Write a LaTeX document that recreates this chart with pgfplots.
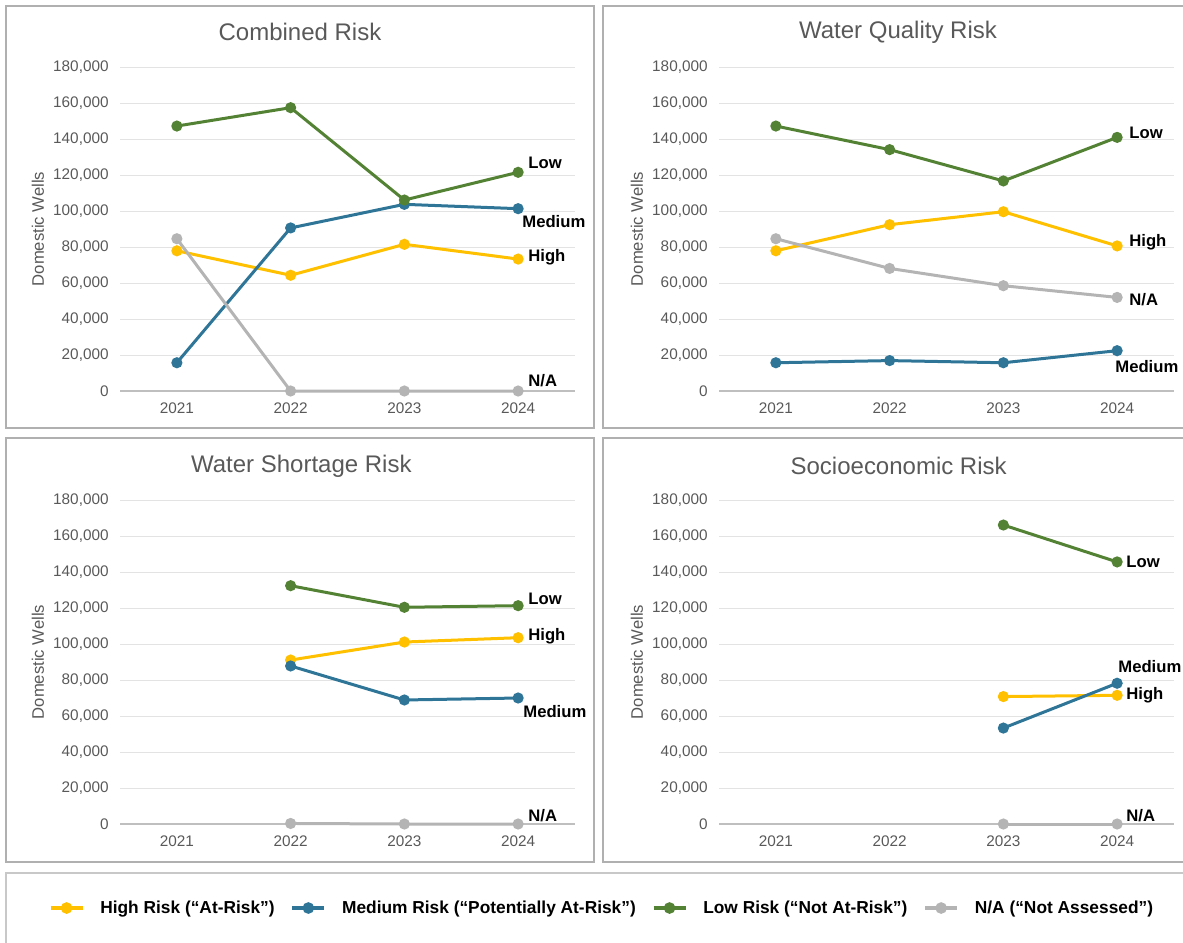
\documentclass[border=0pt]{standalone}
\usepackage{pgfplots}
\pgfplotsset{compat=1.18}
\usepackage{fontspec}
\setmainfont{Liberation Sans}

\definecolor{hiY}{HTML}{FFC000}
\definecolor{medB}{HTML}{2E7598}
\definecolor{lowG}{HTML}{548235}
\definecolor{naG}{HTML}{B4B4B4}
\definecolor{txtgray}{HTML}{595959}
\definecolor{gridgray}{HTML}{E3E3E3}
\definecolor{axisgray}{HTML}{BFBFBF}
\definecolor{boxgray}{HTML}{B0B0B0}

\pgfplotsset{
  panel/.style={
    scale only axis, width=341.25pt, height=243pt,
    xmin=0.5, xmax=4.5, ymin=0, ymax=180000,
    xtick={1,2,3,4}, xticklabels={2021,2022,2023,2024},
    ytick={0,20000,...,180000},
    scaled y ticks=false,
    /pgf/number format/fixed,
    /pgf/number format/precision=0,
    /pgf/number format/1000 sep={,},
    /pgf/number format/assume math mode=true,
    axis x line*=bottom, axis y line*=left,
    y axis line style={draw=none},
    x axis line style={draw=axisgray, line width=1.1pt},
    major tick length=0pt,
    ymajorgrids, grid style={draw=gridgray, line width=0.75pt},
    tick label style={font=\fontsize{11.5}{13}\selectfont, text=txtgray},
    xticklabel style={yshift=-5pt},
    yticklabel style={xshift=-5pt},
    ylabel={Domestic Wells},
    ylabel style={at={(axis description cs:-0.1802,0.5)}, anchor=center,
      font=\fontsize{12.5}{15}\selectfont, text=txtgray},
    every axis plot/.append style={line width=2.25pt, mark=*, mark size=3pt},
    clip=false,
  },
}
\tikzset{
  lbl/.style={font=\bfseries\fontsize{12.5}{15}\selectfont, anchor=west, inner sep=0pt},
  ttl/.style={font=\fontsize{18}{22}\selectfont, text=txtgray},
}

\begin{document}
\begin{tikzpicture}
\useasboundingbox (0pt,0pt) rectangle (887.25pt,-707.25pt);
\clip (0pt,0pt) rectangle (887.25pt,-707.25pt);

% panel frames
\draw[boxgray, line width=1.2pt] (4.5pt,-4.5pt) rectangle (445.5pt,-321pt);
\draw[boxgray, line width=1.2pt] (452.25pt,-4.5pt) rectangle (896.25pt,-321pt);
\draw[boxgray, line width=1.2pt] (4.5pt,-328.5pt) rectangle (445.5pt,-646.5pt);
\draw[boxgray, line width=1.2pt] (452.25pt,-328.5pt) rectangle (896.25pt,-646.5pt);
\draw[boxgray!70, line width=1.2pt] (4.5pt,-654.75pt) rectangle (896.25pt,-720pt);

% titles
\node[ttl] at (225pt,-24pt) {Combined Risk};
\node[ttl] at (673.5pt,-24.5pt) {Water Quality Risk};
\node[ttl] at (226pt,-349.5pt) {Water Shortage Risk};
\node[ttl] at (674pt,-349.5pt) {Socioeconomic Risk};

% Combined Risk
\begin{axis}[panel, at={(90pt,-293.25pt)}, anchor=south west]
\addplot[hiY] coordinates {(1,77900) (2,64300) (3,81500) (4,73300)};
\addplot[medB] coordinates {(1,15700) (2,90600) (3,103700) (4,101300)};
\addplot[lowG] coordinates {(1,147200) (2,157400) (3,106100) (4,121500)};
\addplot[naG] coordinates {(1,84600) (2,0) (3,0) (4,0)};
\node[lbl, xshift=7.5pt, yshift=6.75pt] at (axis cs:4,121500) {Low};
\node[lbl, xshift=3pt, yshift=-9.75pt] at (axis cs:4,101300) {Medium};
\node[lbl, xshift=7.5pt, yshift=1.5pt] at (axis cs:4,73300) {High};
\node[lbl, xshift=7.5pt, yshift=7.5pt] at (axis cs:4,0) {N/A};
\end{axis}

% Water Quality Risk
\begin{axis}[panel, at={(539.25pt,-293.25pt)}, anchor=south west]
\addplot[hiY] coordinates {(1,77900) (2,92400) (3,99600) (4,80600)};
\addplot[medB] coordinates {(1,15700) (2,16900) (3,15700) (4,22400)};
\addplot[lowG] coordinates {(1,147200) (2,134100) (3,116700) (4,140900)};
\addplot[naG] coordinates {(1,84600) (2,68100) (3,58500) (4,52000)};
\node[lbl, xshift=9pt, yshift=3.75pt] at (axis cs:4,140900) {Low};
\node[lbl, xshift=9pt, yshift=3pt] at (axis cs:4,80600) {High};
\node[lbl, xshift=9pt, yshift=-1.5pt] at (axis cs:4,52000) {N/A};
\node[lbl, xshift=-1.5pt, yshift=-12pt] at (axis cs:4,22400) {Medium};
\end{axis}

% Water Shortage Risk
\begin{axis}[panel, at={(90pt,-618pt)}, anchor=south west,
  legend columns=4,
  legend style={at={(axis description cs:1.0571,-0.2593)}, anchor=center,
    draw=none, fill=none, font=\bfseries\fontsize{13}{15}\selectfont,
    nodes={inner sep=0pt},
    /tikz/every odd column/.append style={column sep=12pt},
    /tikz/every even column/.append style={column sep=12pt}},
  legend image code/.code={\draw[mark repeat=2, mark phase=2, line width=2.6pt]
    plot coordinates {(0pt,0pt) (12pt,0pt) (24pt,0pt)};}]
\addplot[hiY] coordinates {(2,91100) (3,101100) (4,103500)};
\addlegendentry{High Risk (“At-Risk”)}
\addplot[medB] coordinates {(2,87800) (3,68900) (4,70000)};
\addlegendentry{Medium Risk (“Potentially At-Risk”)}
\addplot[lowG] coordinates {(2,132400) (3,120400) (4,121300)};
\addlegendentry{Low Risk (“Not At-Risk”)}
\addplot[naG] coordinates {(2,300) (3,0) (4,0)};
\addlegendentry{N/A (“Not Assessed”)}
\node[lbl, xshift=7.5pt, yshift=5.25pt] at (axis cs:4,121300) {Low};
\node[lbl, xshift=7.5pt, yshift=0.75pt] at (axis cs:4,103500) {High};
\node[lbl, xshift=3.75pt, yshift=-10.5pt] at (axis cs:4,70000) {Medium};
\node[lbl, xshift=7.5pt, yshift=6pt] at (axis cs:4,0) {N/A};
\end{axis}

% Socioeconomic Risk
\begin{axis}[panel, at={(539.25pt,-618pt)}, anchor=south west]
\addplot[hiY] coordinates {(3,70800) (4,71500)};
\addplot[medB] coordinates {(3,53300) (4,78200)};
\addplot[lowG] coordinates {(3,166100) (4,145600)};
\addplot[naG] coordinates {(3,0) (4,0)};
\node[lbl, xshift=6.75pt, yshift=0pt] at (axis cs:4,145600) {Low};
\node[lbl, xshift=0.75pt, yshift=12.75pt] at (axis cs:4,78200) {Medium};
\node[lbl, xshift=6.75pt, yshift=0pt] at (axis cs:4,71500) {High};
\node[lbl, xshift=6.75pt, yshift=6pt] at (axis cs:4,0) {N/A};
\end{axis}
\end{tikzpicture}
\end{document}
